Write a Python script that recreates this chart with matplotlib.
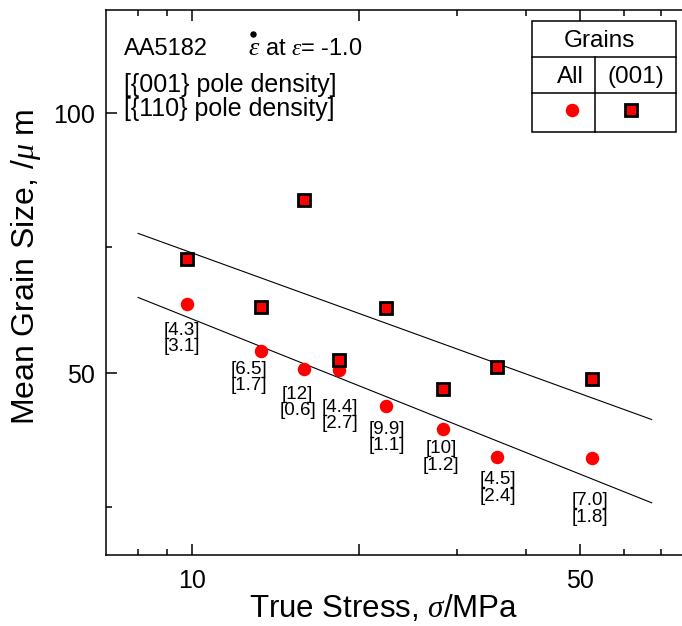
import matplotlib
matplotlib.use("Agg")
import matplotlib.pyplot as plt
from matplotlib.patches import Rectangle
from matplotlib.ticker import FixedLocator, FixedFormatter, NullFormatter

# flow stress vs mean grain size, AA5182
stress = [9.8, 13.3, 15.9, 18.4, 22.4, 28.4, 35.4, 52.6]
size_all = [60.1, 53.1, 50.6, 50.4, 45.8, 43.1, 40.0, 39.9]
size_001 = [67.9, 59.6, 79.4, 51.8, 59.5, 48.0, 50.9, 49.3]
pd001 = ["4.3", "6.5", "12", "4.4", "9.9", "10", "4.5", "7.0"]
pd110 = ["3.1", "1.7", "0.6", "2.7", "1.1", "1.2", "2.4", "1.8"]

# power-law fits, end points
fit_sigma = [8.0, 67.4]
fit_all = [61.2, 35.4]
fit_001 = [72.6, 44.2]

xticks = [10, 20, 50]
xtick_labels = ["10", "", "50"]
xminor = [8, 9, 30, 40, 60, 70]
yticks = [50, 100]
ytick_labels = ["50", "100"]
yminor = [35, 70]

# label offsets below each circle (pixels)
lab_off = [(-5, 34), (-12, 27), (-6, 34), (1, 45), (1, 31), (-2, 28), (1, 31), (-2, 51)]

plt.rcParams["font.family"] = ["Liberation Sans", "DejaVu Sans"]
plt.rcParams["mathtext.fontset"] = "custom"
plt.rcParams["mathtext.rm"] = "Liberation Sans"
plt.rcParams["mathtext.it"] = "Liberation Serif:italic"

fig = plt.figure(figsize=(6.82, 6.26), dpi=100)
ax = fig.add_axes([0.1554, 0.1134, 0.8607, 0.8706])
ax.set_xscale("log")
ax.set_yscale("log")

ax.plot(fit_sigma, fit_001, color="black", lw=0.8, zorder=2)
ax.plot(fit_sigma, fit_all, color="black", lw=0.8, zorder=2)
ax.plot(stress, size_all, "o", ms=9.7, mfc="red", mec="none", zorder=3)
ax.plot(stress, size_001, "s", ms=8.3, mfc="red", mec="black", mew=2, zorder=4)

for s, d, a, b, (dx, dy) in zip(stress, size_all, pd001, pd110, lab_off):
    ax.annotate("[%s]\n[%s]" % (a, b), (s, d), xytext=(dx, -dy),
                textcoords="offset pixels", ha="center", va="center",
                fontsize=13.5, linespacing=0.95)

ax.text(0.0307, 0.9174, "AA5182", transform=ax.transAxes, fontsize=17,
        va="baseline")
ax.text(0.242, 0.9174, r"$\varepsilon$", transform=ax.transAxes, fontsize=19,
        va="baseline")
ax.plot([0.2504], [0.956], "o", transform=ax.transAxes, ms=3.6, color="black")
ax.text(0.2715, 0.9174, r"at $\varepsilon$= -1.0", transform=ax.transAxes,
        fontsize=17, va="baseline")
ax.text(0.0307, 0.8495, "[{001} pole density]", transform=ax.transAxes,
        fontsize=18, va="baseline")
ax.text(0.0307, 0.8055, "[{110} pole density]", transform=ax.transAxes,
        fontsize=18, va="baseline")

# legend table
L, R, T, B = 0.7262, 0.9710, 0.9798, 0.7767
ax.add_patch(Rectangle((L, B), R - L, T - B, transform=ax.transAxes,
                       facecolor="white", edgecolor="black", lw=1.1, zorder=5))
ax.plot([L, R], [0.9132, 0.9132], transform=ax.transAxes, color="black", lw=1.1, zorder=6)
ax.plot([L, R], [0.8472, 0.8472], transform=ax.transAxes, color="black", lw=1.1, zorder=6)
ax.plot([0.8330, 0.8330], [B, 0.9132], transform=ax.transAxes, color="black", lw=1.1, zorder=6)
ax.text(0.8399, 0.943, "Grains", transform=ax.transAxes, fontsize=17.5,
        ha="center", va="center", zorder=7)
ax.text(0.8143, 0.878, "All", transform=ax.transAxes, fontsize=17.5,
        ha="right", va="center", zorder=7)
ax.text(0.9024, 0.878, "(001)", transform=ax.transAxes, fontsize=17.5,
        ha="center", va="center", zorder=7)
ax.plot([0.7944], [0.8165], "o", transform=ax.transAxes, ms=9.7, mfc="red",
        mec="none", zorder=7)
ax.plot([0.8939], [0.8165], "s", transform=ax.transAxes, ms=8.3, mfc="red",
        mec="black", mew=2, zorder=7)

ax.xaxis.set_major_locator(FixedLocator(xticks))
ax.xaxis.set_major_formatter(FixedFormatter(xtick_labels))
ax.xaxis.set_minor_locator(FixedLocator(xminor))
ax.xaxis.set_minor_formatter(NullFormatter())
ax.yaxis.set_major_locator(FixedLocator(yticks))
ax.yaxis.set_major_formatter(FixedFormatter(ytick_labels))
ax.yaxis.set_minor_locator(FixedLocator(yminor))
ax.yaxis.set_minor_formatter(NullFormatter())

ax.tick_params(which="both", direction="in", top=True, right=True, width=1.1,
               labelsize=18)
ax.tick_params(which="major", length=8)
ax.tick_params(which="minor", length=4)
ax.tick_params(axis="x", pad=10)
ax.tick_params(axis="y", pad=8)
for sp in ax.spines.values():
    sp.set_linewidth(1.1)

ax.set_xlabel(r"True Stress, $\sigma$/MPa", fontsize=22.5)
ax.set_ylabel(r"Mean Grain Size, /$\mu$ m", fontsize=23)
ax.xaxis.set_label_coords(0.4736, -0.099)
ax.xaxis.label.set_va("center")
ax.yaxis.set_label_coords(-0.136, 0.529)
ax.yaxis.label.set_va("center")

ax.set_xlim(7, 80)
ax.set_ylim(30.8, 131.7)

fig.savefig("out.png", dpi=100)
